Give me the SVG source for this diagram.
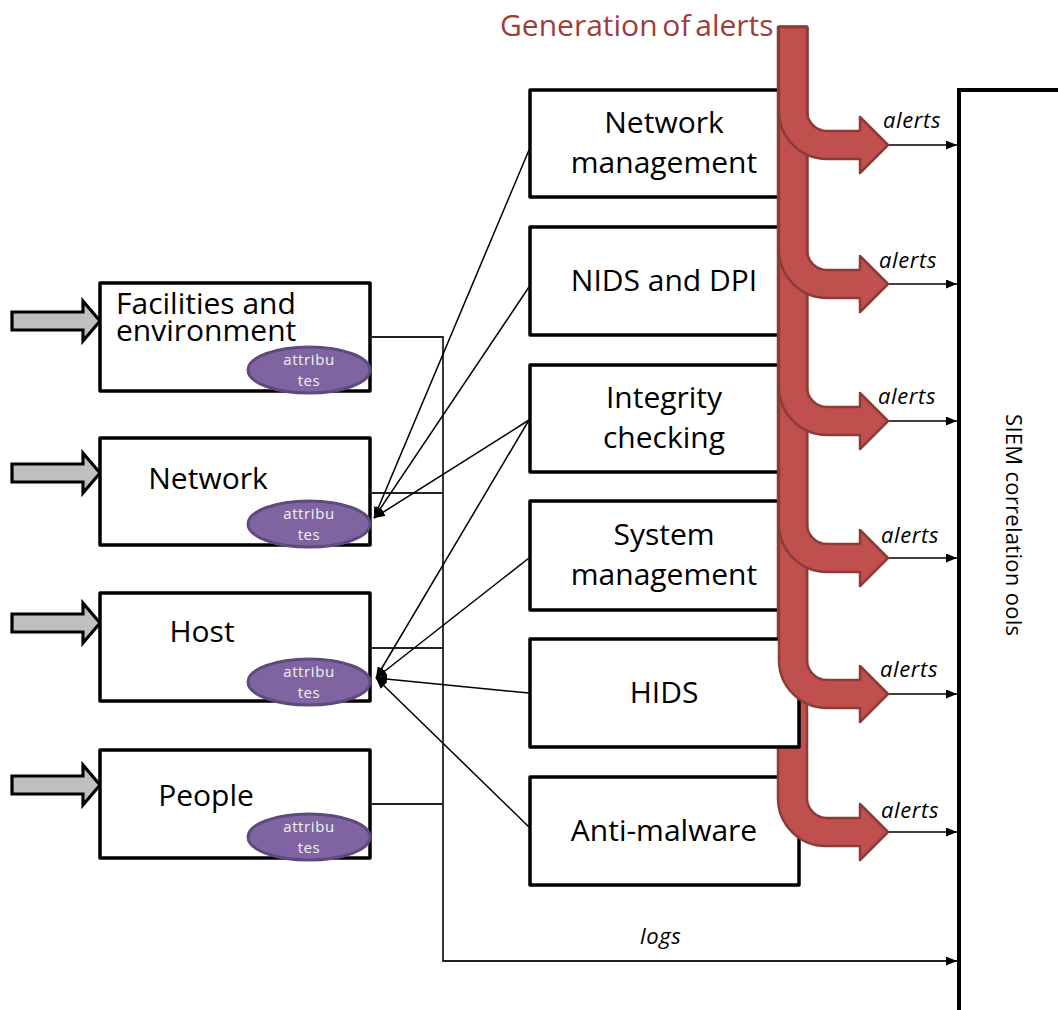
<svg xmlns="http://www.w3.org/2000/svg" width="1058" height="1010" viewBox="0 0 1058 1010">
  <style>
    .box { fill: #ffffff; stroke: #000000; stroke-width: 3.5; stroke-linejoin: round; }
    .lbl { font-family: "Open Sans", "Liberation Sans", sans-serif; font-size: 30px; fill: #000000; }
    .mid { text-anchor: middle; }
    .attr { fill: #8064A2; stroke: #5E4A7D; stroke-width: 3; }
    .attr-t { font-family: "Open Sans", "Liberation Sans", sans-serif; font-size: 15px; fill: #F2F2F2; text-anchor: middle; letter-spacing: 0.6px; }
    .feed { fill: #BFBFBF; stroke: #000000; stroke-width: 3.2; stroke-linejoin: miter; }
    .wire { fill: none; stroke: #000000; stroke-width: 1.5; }
    .log { fill: none; stroke: #222222; stroke-width: 1.8; }
    .bend { fill: #C0504D; stroke: #8C3B39; stroke-width: 2.5; stroke-linejoin: round; }
    .it { font-family: "Open Sans", "Liberation Sans", sans-serif; font-style: italic; font-size: 22px; fill: #000000; letter-spacing: 0.6px; }
  </style>
  <defs>
    <marker id="ah" markerUnits="userSpaceOnUse" markerWidth="11" markerHeight="9" refX="11" refY="4.5" orient="auto">
      <path d="M0,0 L11,4.5 L0,9 z" fill="#000000"/>
    </marker>
  </defs>

  <rect width="1058" height="1010" fill="#ffffff"/>

  <!-- heading -->
  <text x="500" y="36" font-family="'Open Sans', 'Liberation Sans', sans-serif" font-size="30" fill="#A03C3B" word-spacing="-3">Generation of alerts</text>

  <!-- SIEM receiver -->
  <g id="siem">
    <path d="M1062,90 H959 V1014" fill="none" stroke="#000000" stroke-width="4"/>
    <text transform="translate(1006,525) rotate(90)" text-anchor="middle" font-family="'Open Sans', 'Liberation Sans', sans-serif" font-size="22" textLength="222" lengthAdjust="spacing">SIEM correlation ools</text>
  </g>

  <!-- log sources -->
  <g id="facilities">
    <path class="feed" d="M12,312 H83 V301 L100,321 L83,341 V330 H12 Z"/>
    <rect class="box" x="100" y="283" width="270" height="108"/>
    <text class="lbl" font-size="29"><tspan x="116" y="314">Facilities and</tspan><tspan x="116" y="341">environment</tspan></text>
    <ellipse class="attr" cx="309" cy="370" rx="61" ry="23"/>
    <text class="attr-t" x="309" y="365">attribu</text>
    <text class="attr-t" x="309" y="386">tes</text>
  </g>
  <g id="network">
    <path class="feed" d="M12,464 H83 V453 L100,473 L83,493 V482 H12 Z"/>
    <rect class="box" x="100" y="438" width="270" height="107"/>
    <text class="lbl mid" x="208" y="489">Network</text>
    <ellipse class="attr" cx="309" cy="524" rx="61" ry="23"/>
    <text class="attr-t" x="309" y="519">attribu</text>
    <text class="attr-t" x="309" y="540">tes</text>
  </g>
  <g id="host">
    <path class="feed" d="M12,614 H83 V603 L100,623 L83,643 V632 H12 Z"/>
    <rect class="box" x="100" y="593" width="270" height="108"/>
    <text class="lbl mid" x="202" y="642">Host</text>
    <ellipse class="attr" cx="309" cy="682" rx="61" ry="23"/>
    <text class="attr-t" x="309" y="677">attribu</text>
    <text class="attr-t" x="309" y="698">tes</text>
  </g>
  <g id="people">
    <path class="feed" d="M12,776 H83 V765 L100,785 L83,805 V794 H12 Z"/>
    <rect class="box" x="100" y="750" width="270" height="108"/>
    <text class="lbl mid" x="206" y="806">People</text>
    <ellipse class="attr" cx="309" cy="837" rx="61" ry="23"/>
    <text class="attr-t" x="309" y="832">attribu</text>
    <text class="attr-t" x="309" y="853">tes</text>
  </g>

  <!-- connectors -->
  <g id="connectors">
    <!-- logs bus -->
    <path class="log" d="M370,337 H443 V961 H957" marker-end="url(#ah)"/>
    <path class="log" d="M370,493 H443"/>
    <path class="log" d="M370,648 H443"/>
    <path class="log" d="M370,804 H443"/>
    <!-- monitoring links back to attributes -->
    <line class="wire" x1="529" y1="150" x2="374" y2="518" marker-end="url(#ah)"/>
    <line class="wire" x1="529" y1="287" x2="374" y2="518" marker-end="url(#ah)"/>
    <line class="wire" x1="529" y1="420" x2="374" y2="518" marker-end="url(#ah)"/>
    <line class="wire" x1="529" y1="420" x2="376" y2="678" marker-end="url(#ah)"/>
    <line class="wire" x1="529" y1="558" x2="376" y2="678" marker-end="url(#ah)"/>
    <line class="wire" x1="529" y1="693" x2="376" y2="678" marker-end="url(#ah)"/>
    <line class="wire" x1="529" y1="827" x2="376" y2="678" marker-end="url(#ah)"/>
    <!-- alerts into SIEM -->
    <line class="wire" x1="888" y1="145" x2="957" y2="145" marker-end="url(#ah)"/>
    <line class="wire" x1="888" y1="284" x2="957" y2="284" marker-end="url(#ah)"/>
    <line class="wire" x1="888" y1="421" x2="957" y2="421" marker-end="url(#ah)"/>
    <line class="wire" x1="888" y1="558" x2="957" y2="558" marker-end="url(#ah)"/>
    <line class="wire" x1="888" y1="694" x2="957" y2="694" marker-end="url(#ah)"/>
    <line class="wire" x1="888" y1="832" x2="957" y2="832" marker-end="url(#ah)"/>
    <text class="it" x="883" y="128">alerts</text>
    <text class="it" x="879" y="268">alerts</text>
    <text class="it" x="878" y="404">alerts</text>
    <text class="it" x="881" y="543">alerts</text>
    <text class="it" x="880" y="677">alerts</text>
    <text class="it" x="881" y="818">alerts</text>
    <text class="it" x="640" y="944">logs</text>
  </g>

  <!-- monitoring tools -->
  <g id="netmgmt">
    <rect class="box" x="530" y="90" width="269" height="107"/>
    <text class="lbl mid" x="664" y="133">Network</text>
    <text class="lbl mid" x="664" y="173">management</text>
  </g>
  <g id="nids">
    <rect class="box" x="530" y="227" width="269" height="108"/>
    <text class="lbl mid" x="664" y="291">NIDS and DPI</text>
  </g>
  <g id="integrity">
    <rect class="box" x="530" y="365" width="269" height="107"/>
    <text class="lbl mid" x="664" y="408">Integrity</text>
    <text class="lbl mid" x="664" y="448">checking</text>
  </g>
  <g id="sysmgmt">
    <rect class="box" x="530" y="501" width="269" height="109"/>
    <text class="lbl mid" x="664" y="545">System</text>
    <text class="lbl mid" x="664" y="585">management</text>
  </g>
  <g id="antimalware">
    <rect class="box" x="530" y="777" width="269" height="108"/>
    <text class="lbl mid" x="664" y="841">Anti-malware</text>
  </g>

  <!-- alert generation arrows: trunk from the top, bending right into each arrowhead -->
  <g id="alert-flow">
    <path class="bend" d="M778,27 L807,27 L807,798 A20,20 0 0 0 827,818 L860,818 L860,804 L888,832 L860,860 L860,846 L827,846 A48,48 0 0 1 778,798 Z"/>
  </g>
  <g id="hids">
    <rect class="box" x="530" y="639" width="269" height="108"/>
    <text class="lbl mid" x="664" y="703">HIDS</text>
  </g>
  <g id="alert-flow-upper">
    <path class="bend" d="M779,27 L807,27 L807,660 A20,20 0 0 0 827,680 L860,680 L860,666 L888,694 L860,722 L860,708 L827,708 A48,48 0 0 1 779,660 Z"/>
    <path class="bend" d="M779,27 L807,27 L807,524 A20,20 0 0 0 827,544 L860,544 L860,530 L888,558 L860,586 L860,572 L827,572 A48,48 0 0 1 779,524 Z"/>
    <path class="bend" d="M779,27 L807,27 L807,387 A20,20 0 0 0 827,407 L860,407 L860,393 L888,421 L860,449 L860,435 L827,435 A48,48 0 0 1 779,387 Z"/>
    <path class="bend" d="M779,27 L807,27 L807,250 A20,20 0 0 0 827,270 L860,270 L860,256 L888,284 L860,312 L860,298 L827,298 A48,48 0 0 1 779,250 Z"/>
    <path class="bend" d="M779,27 L807,27 L807,111 A20,20 0 0 0 827,131 L860,131 L860,117 L888,145 L860,173 L860,159 L827,159 A48,48 0 0 1 779,111 Z"/>
  </g>
</svg>
